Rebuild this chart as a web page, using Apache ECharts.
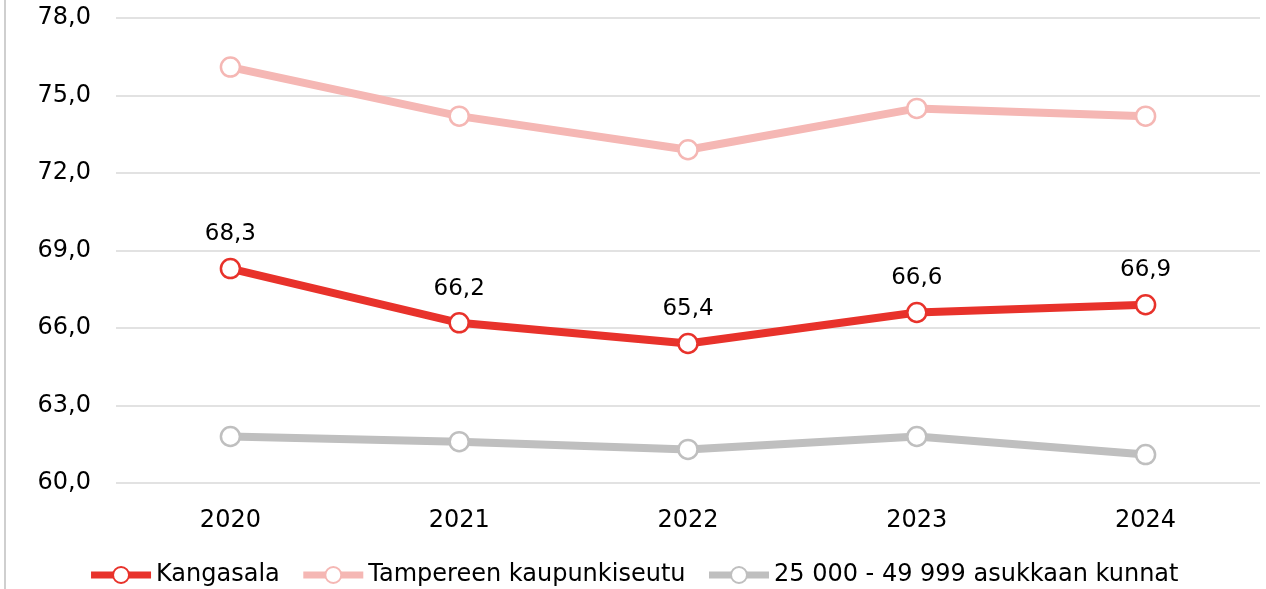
<!DOCTYPE html>
<html>
<head>
<meta charset="utf-8">
<script src="https://cdn.jsdelivr.net/npm/echarts@6/dist/echarts.min.js"></script>
<style>
  html, body { margin: 0; padding: 0; background: #fff; }
  #chart { width: 1266px; height: 589px; }
</style>
</head>
<body>
<div id="chart"></div>
<script>
const years = ['2020', '2021', '2022', '2023', '2024'];
const kangasala = [68.3, 66.2, 65.4, 66.6, 66.9];
const tampere = [76.1, 74.2, 72.9, 74.5, 74.2];
const kunnat = [61.8, 61.6, 61.3, 61.8, 61.1];

const font = '"DejaVu Sans", "Noto Sans", sans-serif';
const fmt = v => v.toFixed(1).replace('.', ',');

const chart = echarts.init(document.getElementById('chart'));

function lineSeries(name, data, color, withLabel) {
  return {
    name: name,
    type: 'line',
    data: data,
    symbol: 'circle',
    symbolSize: 19,
    lineStyle: { width: 8, color: color },
    itemStyle: { color: '#fff', borderColor: color, borderWidth: 2.5 },
    label: {
      show: withLabel,
      position: 'top',
      distance: 12,
      color: '#000',
      fontFamily: font,
      fontSize: 23,
      formatter: p => fmt(p.value)
    },
    emphasis: { disabled: true },
    z: withLabel ? 3 : 2
  };
}

chart.setOption({
  animation: false,
  textStyle: { fontFamily: font },
  grid: { left: 116, right: 6, top: 18, bottom: 106 },
  legend: {
    bottom: -3,
    left: 'center',
    itemWidth: 60,
    itemHeight: 20,
    itemGap: 20,
    lineStyle: { width: 7 },
    textStyle: { fontSize: 24, color: '#000', fontFamily: font },
    data: ['Kangasala', 'Tampereen kaupunkiseutu', '25 000 - 49 999 asukkaan kunnat']
  },
  xAxis: {
    type: 'category',
    data: years,
    axisLine: { show: false },
    axisTick: { show: false },
    axisLabel: { color: '#000', fontSize: 24, margin: 26, fontFamily: font }
  },
  yAxis: {
    type: 'value',
    min: 60,
    max: 78,
    interval: 3,
    axisLine: { show: false },
    axisTick: { show: false },
    splitLine: { lineStyle: { color: '#d9d9d9', width: 1.5 } },
    axisLabel: { color: '#000', fontSize: 24, margin: 25, fontFamily: font, padding: [4, 0, 0, 0], formatter: v => fmt(v) }
  },
  graphic: [{
    type: 'line',
    shape: { x1: 5, y1: 0, x2: 5, y2: 589 },
    style: { stroke: '#bfbfbf', lineWidth: 1.5 }
  }],
  series: [
    lineSeries('Kangasala', kangasala, '#e8322b', true),
    lineSeries('Tampereen kaupunkiseutu', tampere, '#f5b7b4', false),
    lineSeries('25 000 - 49 999 asukkaan kunnat', kunnat, '#bfbfbf', false)
  ]
});
</script>
</body>
</html>
